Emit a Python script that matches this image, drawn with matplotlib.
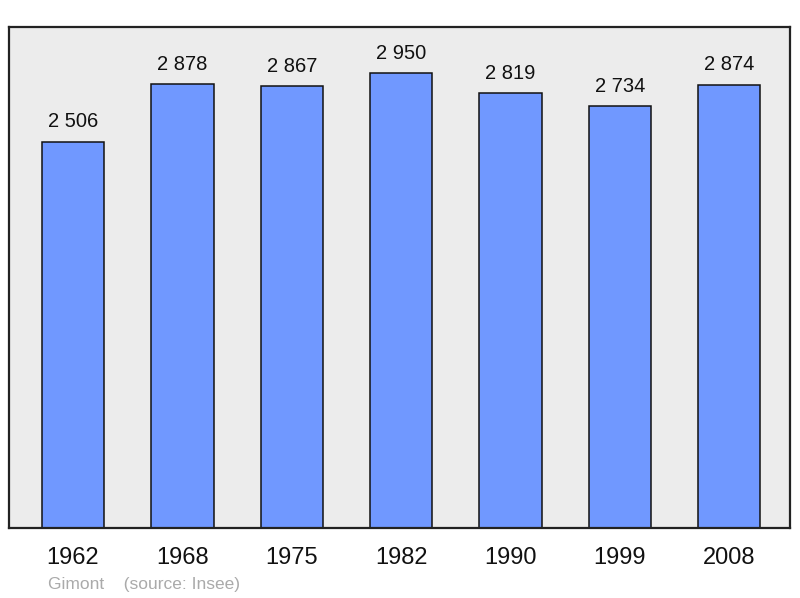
import matplotlib.pyplot as plt

years = ['1962', '1968', '1975', '1982', '1990', '1999', '2008']
population = [2506, 2878, 2867, 2950, 2819, 2734, 2874]
value_labels = ['2 506', '2 878', '2 867', '2 950', '2 819', '2 734', '2 874']

plt.rcParams['font.family'] = ['Liberation Sans', 'DejaVu Sans']

fig = plt.figure(figsize=(8, 5.98), dpi=100)
ax = fig.add_axes([0.01125, 0.117, 0.97625, 0.838])
ax.set_facecolor('#ececec')

x = range(len(years))
bars = ax.bar(x, population, width=0.57, color='#7098ff',
              edgecolor='#111111', linewidth=1.1, zorder=2)

for xi, v, lab in zip(x, population, value_labels):
    ax.annotate(lab, (xi, v), xytext=(0, 7.5), textcoords='offset points',
                ha='center', va='bottom', fontsize=14.5, color='#111111')

ax.set_xlim(-0.585, 6.555)
ax.set_ylim(0, 3250)
ax.set_xticks(list(x))
ax.set_xticklabels(years, fontsize=17, color='#111111')
ax.tick_params(axis='x', length=0, pad=13.5)
ax.set_yticks([])

for s in ax.spines.values():
    s.set_linewidth(1.6)
    s.set_color('#222222')

fig.text(0.06, 0.01, 'Gimont    (source: Insee)', fontsize=12.5,
         color='#aaaaaa', ha='left', va='bottom')

fig.savefig('out.png', dpi=100)
